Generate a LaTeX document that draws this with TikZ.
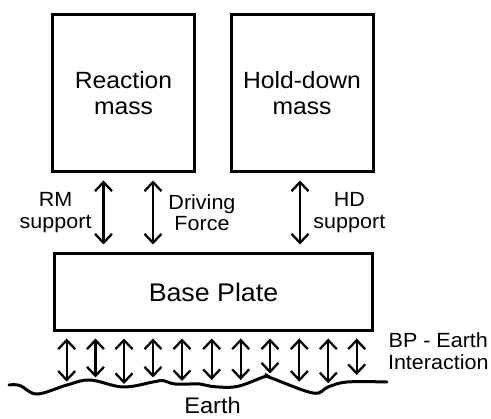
\documentclass[tikz,border=0pt]{standalone}
\usepackage{fontspec}
\setmainfont{Liberation Sans}[FakeStretch=1.05]
\usetikzlibrary{arrows.meta, positioning}
\tikzstyle{mass} = [
    rectangle, minimum width=142pt, minimum height=157pt, line width=3pt,
    align=center, draw=black, font=\fontsize{23.5}{26.5}\selectfont
]
\tikzstyle{plate} = [
    rectangle, minimum width=318pt, minimum height=77pt, line width=3pt,
    align=center, draw=black, font=\fontsize{25.5}{28}\selectfont
]
\tikzstyle{force} = [align=center, font=\fontsize{20.5}{21.5}\selectfont]
\tikzstyle{arrow} = [line width=2.3pt,<->,>={Straight Barb[length=9pt,width=17pt]}]
\tikzstyle{ground} = [line width=3pt, line cap=round]

\begin{document}
\begin{tikzpicture}[x=1pt, y=-1pt]
            \useasboundingbox (0,0) rectangle (491,419);

            \node (rm) [mass] at (123.5,93) {Reaction\\mass};
            \node (hd) [mass] at (302,93) {Hold-down\\mass};
            \node (bp) [plate] at (213.5,292) {Base Plate};

            \draw [arrow, shorten <=7.5pt, shorten >=7.5pt]
                ([xshift=-20pt]rm.south) -- ([xshift=-20pt]rm.south |- bp.north)
                node[midway, left=7.5pt, force] {RM\\support};
            \draw [arrow, shorten <=7.5pt, shorten >=7.5pt]
                ([xshift=29.5pt]rm.south) -- ([xshift=29.5pt]rm.south |- bp.north)
                node[midway, right=11pt, force] {Driving\\Force};
            \draw [arrow, shorten <=7.5pt, shorten >=7.5pt]
                ([xshift=-2pt]hd.south) -- ([xshift=-2pt]hd.south |- bp.north)
                node[midway, right=9pt, force] {HD\\support};

            \foreach \x/\y [count=\i] in {66.7/381.7, 95.5/377.5, 124/384, 153/377.5,
                    182/381, 211.7/380, 240.7/380, 270/373.5, 299.3/381.7,
                    328.3/383.3, 356.7/375} {
                \coordinate (g\i) at (\x,\y);
                \draw [arrow, shorten <=6.5pt] (bp.south -| g\i) -- (g\i);
            }

            \draw [ground] plot [smooth, tension=0.6] coordinates {
                (9,385) (20,385.5) (37,394) (67,385) (90,380) (123,387)
                (153,382) (163,380.5) (175,384) (200,384) (212,386.5)
                (237,386.5) (265,376.5) (270,377.5) (313,393) (328,387)
                (347,382) (387,382)};

            \node (bpe) [force, anchor=west] at (384.5,351) {BP - Earth\\Interaction};
            \node (earth) [force, font=\fontsize{22.5}{24}\selectfont] at (212.5,405.5) {Earth};
        \end{tikzpicture}
\end{document}
